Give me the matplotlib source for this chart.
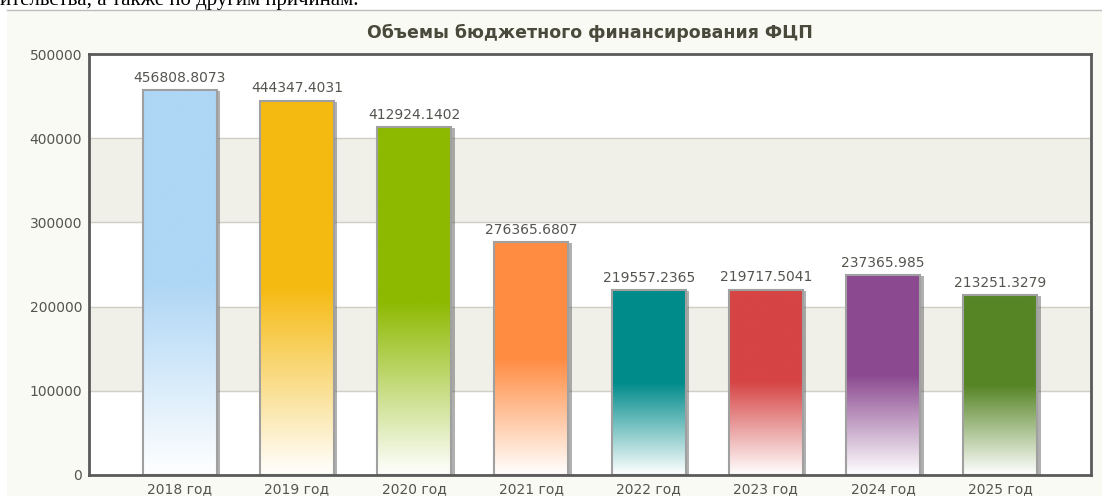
import numpy as np
import matplotlib.pyplot as plt
import matplotlib.patheffects as pe
from matplotlib.patches import Rectangle
from matplotlib.lines import Line2D
from matplotlib.colors import to_rgb

years = ["2018 год", "2019 год", "2020 год", "2021 год",
         "2022 год", "2023 год", "2024 год", "2025 год"]
values = [456808.8073, 444347.4031, 412924.1402, 276365.6807,
          219557.2365, 219717.5041, 237365.985, 213251.3279]
colors = ["#AED6F5", "#F5BA12", "#8DB900", "#FF8C42",
          "#008B8B", "#D64545", "#8B4A90", "#568525"]
yticks = [0, 100000, 200000, 300000, 400000, 500000]
title = "Объемы бюджетного финансирования ФЦП"
top_text = "ительства, а также по другим причинам."

W, H = 1102, 496
fig = plt.figure(figsize=(W / 100, H / 100), dpi=100)

# cream panel + separator line of the page (kept behind the axes)
fig.patches.append(Rectangle((7 / W, 0), 1 - 7 / W, 485 / H, transform=fig.transFigure,
                             facecolor="#FAFAF4", edgecolor="none", zorder=-2))
fig.lines.append(Line2D([7 / W, 1], [486 / H, 486 / H], transform=fig.transFigure,
                        color="#BDBDBD", lw=1, zorder=-1))
fig.text(0, 1 - 5 / H, top_text, family="Liberation Serif", fontsize=15,
         va="baseline", ha="left", color="black")

ax = fig.add_axes([89 / W, 21 / H, 1002 / W, 421 / H])
ax.set_facecolor("white")
for i in range(5):
    if i % 2 == 1:
        ax.axhspan(yticks[i], yticks[i + 1], color="#F0F0E8", zorder=0)
for t in yticks[1:-1]:
    ax.axhline(t, color="#CFCFC8", lw=1, zorder=0.5)

bw = 0.63
grad = np.linspace(0, 1, 256)[:, None]
mix = np.clip(grad / 0.5, 0.03, 1)
for i, (v, c) in enumerate(zip(values, colors)):
    x0 = i - bw / 2
    ax.add_patch(Rectangle((x0, 0), bw, v, facecolor="white", edgecolor="none", zorder=2,
                           path_effects=[pe.SimplePatchShadow(offset=(2.5, -0.5),
                                                              shadow_rgbFace="#505050", alpha=0.45),
                                         pe.Normal()]))
    rgb = 1 - mix[..., None] * (1 - np.array(to_rgb(c)))
    ax.imshow(rgb, origin="lower", extent=(x0, x0 + bw, 0, v), aspect="auto",
              interpolation="bilinear", zorder=3)
    ax.add_patch(Rectangle((x0, 0), bw, v, fill=False, edgecolor="#A0A0A0", lw=1.5, zorder=4))
    ax.annotate(str(v), (i, v), xytext=(0, 4), textcoords="offset points",
                ha="center", va="bottom", fontsize=10, color="#555550")

pad = 32 / 117.3
ax.set_xlim(-0.5 - pad, len(years) - 0.5 + pad)
ax.set_ylim(0, 500000)
ax.set_xticks(range(len(years)), years)
ax.set_yticks(yticks, [str(t) for t in yticks])
ax.tick_params(length=0, labelsize=10, labelcolor="#555550")
ax.tick_params(axis="y", pad=5)
ax.tick_params(axis="x", pad=5)
for s in ax.spines.values():
    s.set_color("#5A5A5A")
    s.set_linewidth(2)
    s.set_zorder(6)

fig.text(590 / W, 1 - 33 / H, title, ha="center", va="center", fontsize=12.5,
         fontweight="bold", color="#4A4A3C")

fig.savefig("out.png", dpi=100)
